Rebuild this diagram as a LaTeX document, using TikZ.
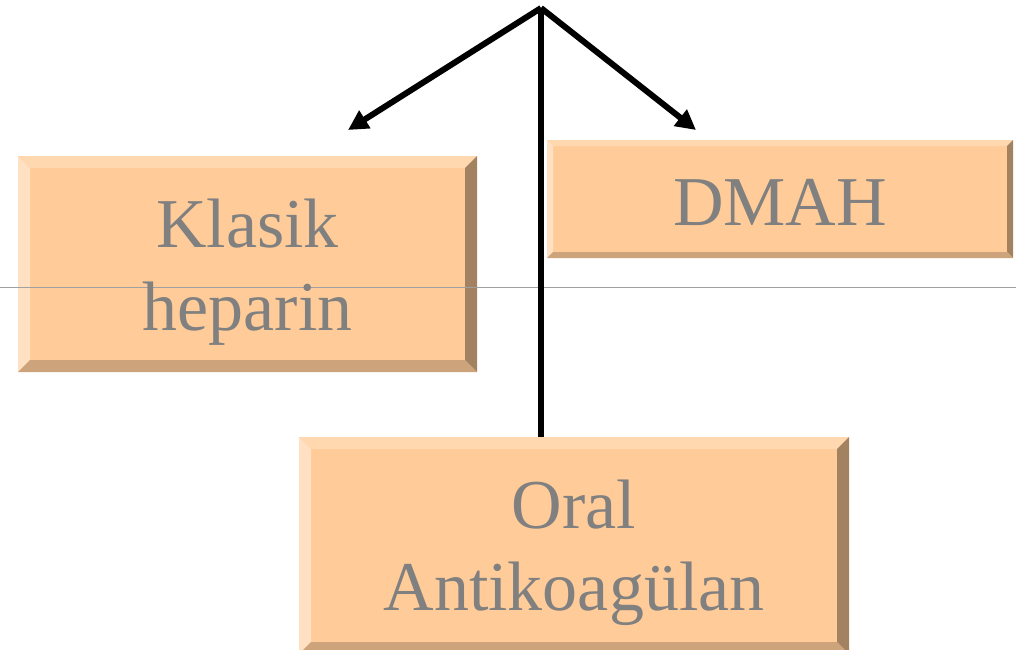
\documentclass[tikz,border=0pt]{standalone}
\usepackage{fontspec}
\setmainfont{Liberation Serif}
\usetikzlibrary{arrows.meta,calc}
\definecolor{face}{HTML}{FFCC99}
\definecolor{topb}{HTML}{FFD8B0}
\definecolor{leftb}{HTML}{FFE0C2}
\definecolor{rightb}{HTML}{A38262}
\definecolor{botb}{HTML}{CCA37A}
\definecolor{txt}{HTML}{808080}
\definecolor{hair}{HTML}{A0A0A0}
\newcommand\bevelfaces[2]{%
  \fill[topb] (#1.north west) -- (#1.north east) -- ($(#1.north east)+(-#2,-#2)$) -- ($(#1.north west)+(#2,-#2)$) -- cycle;
  \fill[leftb] (#1.north west) -- ($(#1.north west)+(#2,-#2)$) -- ($(#1.south west)+(#2,#2)$) -- (#1.south west) -- cycle;
  \fill[rightb] (#1.north east) -- (#1.south east) -- ($(#1.south east)+(-#2,#2)$) -- ($(#1.north east)+(-#2,-#2)$) -- cycle;
  \fill[botb] (#1.south west) -- ($(#1.south west)+(#2,#2)$) -- ($(#1.south east)+(-#2,#2)$) -- (#1.south east) -- cycle;
}
\tikzset{
  bbox/.style={fill=face, inner sep=0pt, outer sep=0pt, anchor=north west},
  lbl/.style={text=txt, font=\fontsize{70}{83}\selectfont, anchor=base, inner sep=0pt},
  conn/.style={line width=6pt, black},
  arr/.style={conn, -{Triangle[length=20pt,width=20pt]}},
  hairline/.style={line width=1pt, hair}
}
\begin{document}
\begin{tikzpicture}[x=1pt,y=1pt]
\useasboundingbox (0,0) rectangle (1016,-649);
\begin{scope}
\clip (0,0) rectangle (1016,-649);
\node[bbox, minimum width=459pt, minimum height=216pt] (klasik) at (18,-156) {};
\node[bbox, minimum width=466pt, minimum height=118pt] (dmah) at (547,-140) {};
\node[bbox, minimum width=550pt, minimum height=217pt] (oral) at (299,-437) {};
\bevelfaces{klasik}{12}
\bevelfaces{dmah}{6}
\bevelfaces{oral}{12}
\coordinate (hl) at (0,-287);
\coordinate (hr) at (1016,-287);
\draw[hairline] (hl) -- (hr);
\node[lbl] (t1) at (247.5,-247) {Klasik};
\node[lbl] (t2) at (247.5,-330) {heparin};
\node[lbl] (t3) at (780,-225) {DMAH};
\node[lbl] (t4) at (574,-528) {Oral};
\node[lbl] (t5) at (574,-610) {Antikoagülan};
\coordinate (apex) at (541,-8);
\coordinate (la) at (348,-130);
\coordinate (ra) at (696,-130);
\draw[conn] (apex) -- (apex |- oral.north);
\draw[arr] (apex) -- (la);
\draw[arr] (apex) -- (ra);
\end{scope}
\end{tikzpicture}
\end{document}
